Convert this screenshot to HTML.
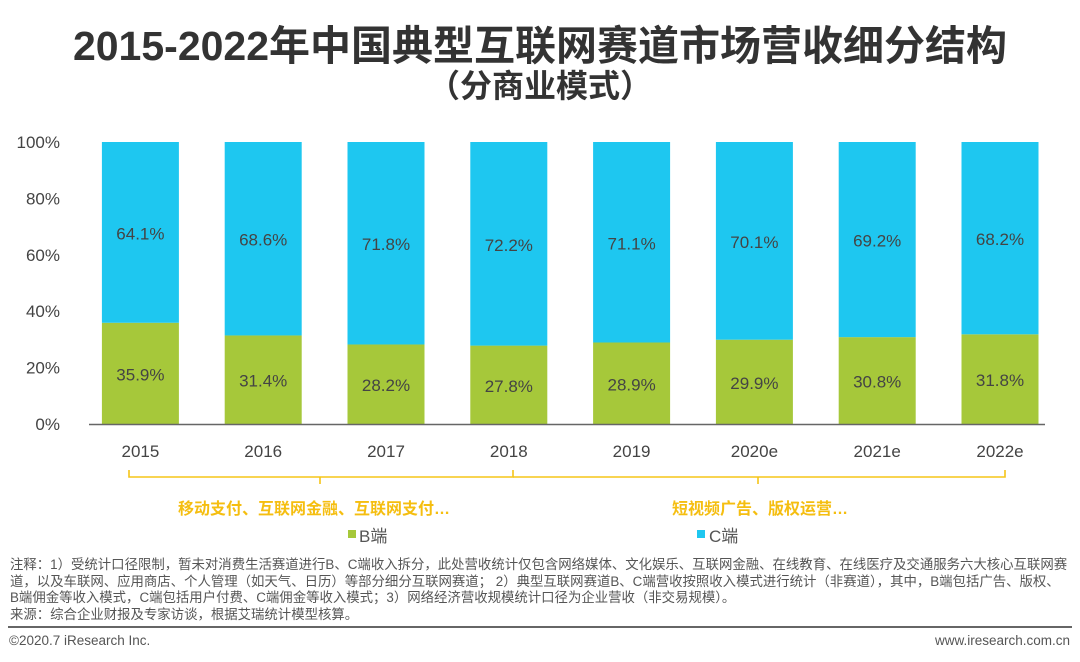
<!DOCTYPE html>
<html><head><meta charset="utf-8"><style>
body{margin:0;width:1080px;height:662px;background:#fff;font-family:"Liberation Sans","Noto Sans CJK SC",sans-serif;overflow:hidden;position:relative}
.t{position:absolute;white-space:nowrap}
</style></head><body>
<div class="t" style="left:0;width:1080px;text-align:center;top:12px;font-size:41px;font-weight:bold;color:#333">2015-2022年中国典型互联网赛道市场营收细分结构</div>
<div class="t" style="left:0;width:1080px;text-align:center;top:61px;font-size:32px;font-weight:bold;color:#333">（分商业模式）</div>
<svg id="chart" width="1080" height="662" style="position:absolute;left:0;top:0"></svg>
<div class="t" style="left:10px;top:557px;font-size:13.4px;line-height:16.6px;color:#555">注释：1）受统计口径限制，暂未对消费生活赛道进行B、C端收入拆分，此处营收统计仅包含网络媒体、文化娱乐、互联网金融、在线教育、在线医疗及交通服务六大核心互联网赛<br>道，以及车联网、应用商店、个人管理（如天气、日历）等部分细分互联网赛道； 2）典型互联网赛道B、C端营收按照收入模式进行统计（非赛道），其中，B端包括广告、版权、<br>B端佣金等收入模式，C端包括用户付费、C端佣金等收入模式；3）网络经济营收规模统计口径为企业营收（非交易规模）。<br>来源：综合企业财报及专家访谈，根据艾瑞统计模型核算。</div>
<div style="position:absolute;left:8px;top:626px;width:1064px;height:2px;background:#666"></div>
<div class="t" style="left:9px;top:633px;font-size:13.5px;color:#555">©2020.7 iResearch Inc.</div>
<div class="t" style="right:10px;top:633px;font-size:13.5px;color:#555">www.iresearch.com.cn</div>
<script>
const categories=["2015","2016","2017","2018","2019","2020e","2021e","2022e"];
const bValues=[35.9,31.4,28.2,27.8,28.9,29.9,30.8,31.8];
const cValues=[64.1,68.6,71.8,72.2,71.1,70.1,69.2,68.2];
const yTicks=[0,20,40,60,80,100];
const NS="http://www.w3.org/2000/svg";
const svg=document.getElementById('chart');
const y0=424,y1=142,x0=79,step=122.8,bw=77;
const y=v=>y0-(v/100)*(y0-y1);
const xc=i=>x0+step*(i+0.5);
function mk(tag,attrs,txt){const e=document.createElementNS(NS,tag);for(const k in attrs)e.setAttribute(k,attrs[k]);if(txt!==undefined)e.textContent=txt;svg.appendChild(e);return e;}
yTicks.forEach(t=>{const e=mk('text',{x:60,y:y(t)+6,'text-anchor':'end','font-size':17,fill:'#444'},t+'%');

});
categories.forEach((c,i)=>{
 const b=mk('rect',{x:xc(i)-bw/2,y:y(bValues[i]),width:bw,height:y0-y(bValues[i]),fill:'#a6c83a'});
 
 
 const cr=mk('rect',{x:xc(i)-bw/2,y:y(bValues[i]+cValues[i]),width:bw,height:y(bValues[i])-y(bValues[i]+cValues[i]),fill:'#1ec7f0'});
 
 
 const lb=mk('text',{x:xc(i),y:(y(bValues[i])+y0)/2+7,'text-anchor':'middle','font-size':17,fill:'#444'},bValues[i].toFixed(1)+'%');
 
 
 const lc=mk('text',{x:xc(i),y:(y(bValues[i])+y(bValues[i]+cValues[i]))/2+7,'text-anchor':'middle','font-size':17,fill:'#444'},cValues[i].toFixed(1)+'%');
 
 
 const xl=mk('text',{x:xc(i),y:457,'text-anchor':'middle','font-size':17,fill:'#444'},c);
 
 
});
const ax=mk('line',{x1:89,x2:1045,y1:y0+0.5,y2:y0+0.5,stroke:'#666','stroke-width':1.5});


const br1=mk('path',{d:'M129 470 V477 H513 V470 M320 477 V484',stroke:'#f5c518','stroke-width':1.6,fill:'none'});


const br2=mk('path',{d:'M513 477 H1005 V470 M758 477 V484',stroke:'#f5c518','stroke-width':1.6,fill:'none'});


const a1=mk('text',{x:178,y:514,'font-size':16,'font-weight':'bold',fill:'#f5be10'},'移动支付、互联网金融、互联网支付…');


const a2=mk('text',{x:672,y:514,'font-size':16,'font-weight':'bold',fill:'#f5be10'},'短视频广告、版权运营…');


const l1=mk('rect',{x:348,y:530,width:8,height:8,fill:'#a6c83a'});


const l1t=mk('text',{x:359,y:542,'font-size':17,fill:'#555'},'B端');


const l2=mk('rect',{x:697,y:530,width:8,height:8,fill:'#1ec7f0'});


const l2t=mk('text',{x:709,y:542,'font-size':17,fill:'#555'},'C端');


</script>
</body></html>
